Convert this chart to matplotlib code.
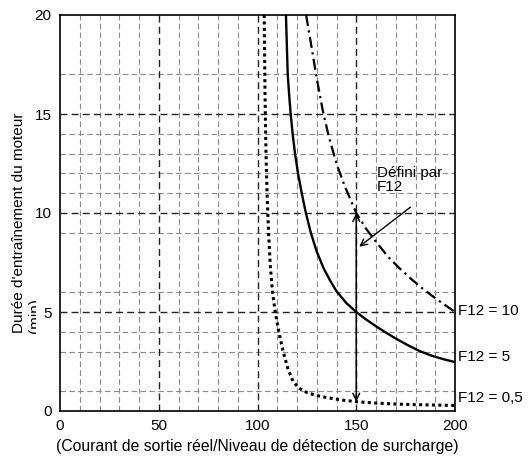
import matplotlib
matplotlib.use("Agg")
import matplotlib.pyplot as plt
from matplotlib.transforms import Bbox

plt.rcParams['font.family'] = ['Liberation Sans', 'DejaVu Sans']

# Overload curves: motor running time vs. output current ratio (%)
f12_05_x = [103.4, 103.8, 104.3, 104.9, 105.6, 106.5, 107.6, 109.0, 110.8, 113.0,
            115.5, 118.0, 121.0, 125.0, 130.0, 136.0, 143.0, 150.0, 160.0, 170.0,
            180.0, 190.0, 200.0]
f12_05_y = [20.0, 16.0, 13.0, 10.8, 9.0, 7.3, 6.0, 5.0, 4.0, 3.0,
            2.1, 1.5, 1.15, 0.93, 0.78, 0.66, 0.55, 0.47, 0.40, 0.35,
            0.32, 0.30, 0.28]

f12_5_x = [114.4, 114.85, 115.3, 116.0, 116.8, 117.8, 119.0, 120.5, 122.4, 124.5,
           127.0, 130.0, 133.5, 137.0, 140.0, 145.0, 150.0, 155.0, 160.0, 165.0,
           170.0, 176.0, 182.0, 188.0, 194.0, 200.0]
f12_5_y = [20.0, 18.5, 17.0, 16.0, 15.0, 14.0, 13.0, 12.0, 11.0, 10.0,
           9.0, 8.05, 7.2, 6.55, 6.05, 5.45, 5.0, 4.62, 4.28, 3.96,
           3.66, 3.33, 3.03, 2.8, 2.62, 2.47]

f12_10_x = [124.6, 127.0, 130.0, 133.0, 136.0, 140.0, 144.0, 150.0, 155.0, 160.0,
            166.0, 172.0, 178.0, 184.0, 190.0, 195.0, 200.0]
f12_10_y = [20.0, 18.6, 16.8, 15.2, 13.9, 12.5, 11.4, 10.0, 9.2, 8.55,
            7.8, 7.2, 6.65, 6.15, 5.7, 5.35, 5.0]

curve_labels = ['F12 = 10', 'F12 = 5', 'F12 = 0,5']
curve_label_y = [5.05, 2.72, 0.65]

x_ticks = [0, 50, 100, 150, 200]
y_ticks = [0, 5, 10, 15, 20]
x_minor_grid = [10, 20, 30, 40, 60, 70, 80, 90, 110, 120, 130, 140, 160, 170, 180, 190]
y_minor_grid = [1, 3, 4, 6, 9, 11, 12, 13, 14, 17]
x_major_grid = [50, 100, 150]
y_major_grid = [5, 10, 15]

range_x = 150
range_top = 10.0
range_bottom = 0.47
note_start = (177.5, 10.3)
note_end = (151.5, 8.3)

FS = 11

fig = plt.figure(figsize=(5.28, 4.59), dpi=100)
ax = fig.add_axes([60 / 528, 48 / 459, 395 / 528, 396 / 459])
ax.set_xlim(0, 200)
ax.set_ylim(0, 20)

dash = (0, (5, 3))
for xv in x_minor_grid:
    ax.axvline(xv, color='#8a8a8a', lw=0.8, ls=dash, zorder=1)
for yv in y_minor_grid:
    ax.axhline(yv, color='#8a8a8a', lw=0.8, ls=dash, zorder=1)
for xv in x_major_grid:
    ax.axvline(xv, color='#222222', lw=1.0, ls=dash, zorder=1)
for yv in y_major_grid:
    ax.axhline(yv, color='#222222', lw=1.0, ls=dash, zorder=1)

ax.plot(f12_05_x, f12_05_y, color='black', lw=2.2, ls=(0, (1, 1.1)), zorder=3)
ax.plot(f12_5_x, f12_5_y, color='black', lw=1.7, ls='-', zorder=3)
ax.plot(f12_10_x, f12_10_y, color='black', lw=1.6, ls=(0, (5, 2, 1, 2)), zorder=3)

ax.annotate('', xy=(range_x, range_top), xytext=(range_x, range_bottom),
            arrowprops=dict(arrowstyle='<->', lw=1.1, color='black',
                            mutation_scale=12, shrinkA=0, shrinkB=0), zorder=4)
ax.annotate('', xy=note_end, xytext=note_start,
            arrowprops=dict(arrowstyle='->', lw=1.0, color='black',
                            mutation_scale=12, shrinkA=0, shrinkB=0), zorder=4)
ax.text(160.3, 12.35, 'Défini par\nF12', fontsize=FS, ha='left', va='top',
        linespacing=0.95, zorder=5)

for lab, yv in zip(curve_labels, curve_label_y):
    ax.text(201.5, yv, lab, fontsize=FS, ha='left', va='center', clip_on=False)

ax.set_xticks(x_ticks)
ax.set_yticks(y_ticks)
ax.tick_params(length=0, labelsize=FS, pad=6)
for sp in ax.spines.values():
    sp.set_linewidth(1.2)
    sp.set_zorder(6)

ax.set_xlabel('(Courant de sortie réel/Niveau de détection de surcharge)',
              fontsize=11.3, labelpad=4)

# Axis title in two lines; the unit line is partly hidden behind the tick labels
fig.text(12 / 528, 1 - 333 / 459, "Durée d'entraînement du moteur",
         rotation=90, fontsize=FS, ha='left', va='top', rotation_mode='anchor')
unit = fig.text(28 / 528, 1 - 333 / 459, "(min)",
                rotation=90, fontsize=FS, ha='left', va='top', rotation_mode='anchor')
unit.set_clip_box(Bbox.from_extents(0, 0, 36, 459))
unit.set_clip_on(True)

fig.savefig('out.png', dpi=100)
